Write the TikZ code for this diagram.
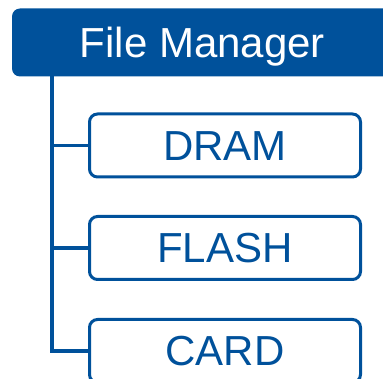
\documentclass[tikz,border=0pt]{standalone}
\usepackage{fontspec}
\setmainfont{Liberation Sans}
\definecolor{fmblue}{RGB}{0,81,155}
\begin{document}
\begin{tikzpicture}[x=1pt,y=1pt,
  hdr/.style={fill=fmblue, draw=none, rounded corners=8pt, minimum width=381pt, minimum height=68pt, inner sep=0pt, text height=30pt, text depth=0pt, text=white, font=\fontsize{42}{48}\selectfont},
  itembox/.style={draw=fmblue, line width=3pt, rounded corners=8pt, fill=white, minimum width=271pt, minimum height=63pt, inner sep=0pt, text height=30pt, text depth=0pt, text=fmblue, font=\fontsize{42}{48}\selectfont},
  conn/.style={draw=fmblue, line width=3.3pt}]
\useasboundingbox (0,0) rectangle (383,-379);
\clip (0,0) rectangle (383,-379);
\node[hdr] (fm) at (202.5,-42.5) {File Manager};
\node[itembox] (dram) at (225,-145.5) {DRAM};
\node[itembox] (flash) at (225,-248) {FLASH};
\node[itembox] (card) at (225,-351) {CARD};
\coordinate (trunk) at (52,-74);
\draw[conn] (trunk) |- (dram.west);
\draw[conn] (trunk) |- (flash.west);
\draw[conn] (trunk) |- (card.west);
\end{tikzpicture}
\end{document}
